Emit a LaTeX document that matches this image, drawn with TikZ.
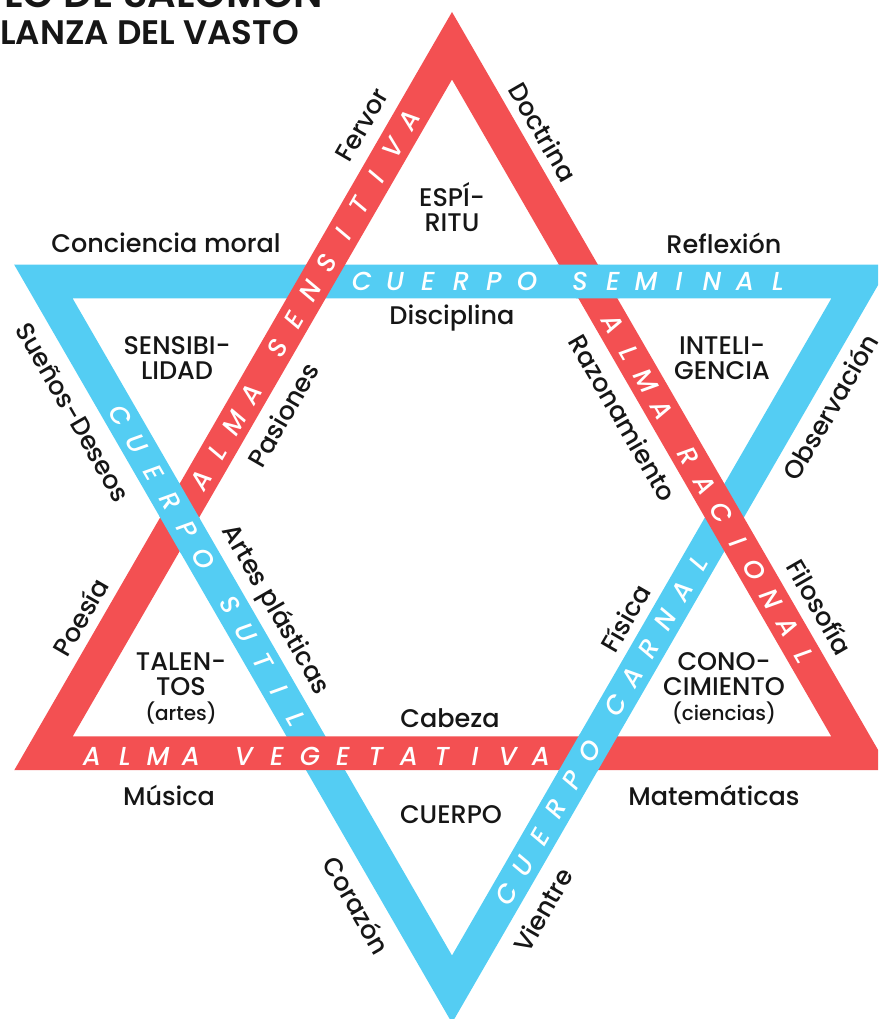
\documentclass[tikz,border=0pt]{standalone}
\usepackage{fontspec}
\setmainfont{Poppins}
\IfFontExistsTF{Poppins Medium}{\newfontfamily\labfont{Poppins Medium}}{\newfontfamily\labfont{Poppins}}
\IfFontExistsTF{Poppins SemiBold}{\newfontfamily\titfont{Poppins SemiBold}}{\newfontfamily\titfont{Poppins}[UprightFont=*-Bold]}
\IfFontExistsTF{Poppins Medium Italic}{\newfontfamily\bandfont{Poppins Medium Italic}}{%
  \IfFontExistsTF{Poppins Italic}{\newfontfamily\bandfont{Poppins Italic}}{\newfontfamily\bandfont{Poppins}[FakeSlant=0.2]}}
\usetikzlibrary{calc}
\definecolor{sred}{RGB}{243,80,82}
\definecolor{sblue}{RGB}{84,205,243}
\definecolor{ink}{RGB}{22,22,22}
\newlength\pitch \setlength\pitch{33pt}
\newlength\wgap \setlength\wgap{20pt}
\def\spacedtext#1{\spacedaux#1\relax}
\def\spacedaux#1{\ifx#1\relax\else\ifx#1/\hspace{\wgap}\else\makebox[\pitch]{#1}\fi\expandafter\spacedaux\fi}
\tikzset{
  lab/.style={font=\labfont\fontsize{25.5}{25}\selectfont, text=ink, inner sep=0pt, align=center},
  bandtxt/.style={font=\bandfont\fontsize{26}{26}\selectfont, text=white, inner sep=0pt},
  titletxt/.style={font=\titfont\fontsize{34}{36}\selectfont, text=ink, inner sep=0pt},
}
\newcommand\sublab[1]{{\fontsize{20}{22}\selectfont #1}}
\begin{document}
\begin{tikzpicture}[x=1pt,y=1pt]
\useasboundingbox (0,0) rectangle (878,1019);
\clip (0,0) rectangle (878,1019);
\begin{scope}[shift={(452,501.5)}]
  \coordinate (RA) at (90:505.5);  \coordinate (RL) at (210:505.5); \coordinate (RR) at (330:505.5);
  \coordinate (ra) at (90:438);    \coordinate (rl) at (210:438);   \coordinate (rr) at (330:438);
  \coordinate (BB) at (270:505.5); \coordinate (BR) at (30:505.5);  \coordinate (BL) at (150:505.5);
  \coordinate (bb) at (270:438);   \coordinate (br) at (30:438);    \coordinate (bl) at (150:438);
  % slightly enlarged red side outlines, for seamless blue-over crossings
  \coordinate (XA) at (90:509);  \coordinate (XL) at (210:509); \coordinate (XR) at (330:509);
  \coordinate (xa) at (90:434);  \coordinate (xl) at (210:434); \coordinate (xr) at (330:434);
\end{scope}
% blue band
\fill[sblue,even odd rule] (BB)--(BR)--(BL)--cycle (bb)--(br)--(bl)--cycle;
% red band (over)
\fill[sred,even odd rule] (RA)--(RL)--(RR)--cycle (ra)--(rl)--(rr)--cycle;
% blue over red at three crossings
\begin{scope}
  \clip (BL)--(BR)--(br)--(bl)--cycle;
  \fill[sblue] (XA)--(XR)--(xr)--(xa)--cycle;
\end{scope}
\begin{scope}
  \clip (BL)--(BB)--(bb)--(bl)--cycle;
  \fill[sblue] (XA)--(XL)--(xl)--(xa)--cycle;
\end{scope}
\begin{scope}
  \clip (BR)--(BB)--(bb)--(br)--cycle;
  \fill[sblue] (XL)--(XR)--(xr)--(xl)--cycle;
\end{scope}
% title
\node[titletxt, font=\titfont\fontsize{40}{42}\selectfont, anchor=base east] (t1) at (323,1011) {LO DE SALOMON};
\node[titletxt, anchor=base west] (t2) at (0,974) {LANZA DEL VASTO};
% band texts
\node[bandtxt] (b1) at (570,737.4) {\spacedtext{CUERPO/SEMINAL}};
\node[bandtxt, rotate=60] (b2) at (305.2,719) {\spacedtext{ALMA/SENSITIVA}};
\node[bandtxt, rotate=-60] (b3) at (708.5,529) {\spacedtext{ALMA/RACIONAL}};
\node[bandtxt] (b4) at (316.5,262.5) {\spacedtext{ALMA/VEGETATIVA}};
\node[bandtxt, rotate=-60] (b5) at (208.3,452) {\spacedtext{CUERPO/SUTIL}};
\node[bandtxt, rotate=60] (b6) at (602.5,290.5) {\spacedtext{CUERPO/CARNAL}};
% labels
\node[lab, rotate=60] (fervor) at (362,894) {Fervor};
\node[lab, rotate=-60] (doctrina) at (543,887) {Doctrina};
\node[lab] (espiritu) at (452,812) {ESPÍ-\\RITU};
\node[lab] (conciencia) at (166,776) {Conciencia moral};
\node[lab] (reflexion) at (724,776) {Reflexión};
\node[lab] (disciplina) at (452,701) {Disciplina};
\node[lab] (sensibilidad) at (177,661) {SENSIBI-\\LIDAD};
\node[lab] (inteligencia) at (722,661) {INTELI-\\GENCIA};
\node[lab, rotate=-60] (suenos) at (73,607) {Sueños-Deseos};
\node[lab, rotate=60] (pasiones) at (283,604) {Pasiones};
\node[lab, rotate=-60] (razonamiento) at (623,601) {Razonamiento};
\node[lab, rotate=60] (observacion) at (830,612) {Observación};
\node[lab, rotate=60] (poesia) at (80,402) {Poesía};
\node[lab, rotate=-60] (artes) at (275,409) {Artes plásticas};
\node[lab] (talentos) at (181,331) {TALEN-\\TOS\\\sublab{(artes)}};
\node[lab, rotate=60] (fisica) at (625,401) {Física};
\node[lab, rotate=-60] (filosofia) at (820,412) {Filosofía};
\node[lab] (conocimiento) at (724,331) {CONO-\\CIMIENTO\\\sublab{(ciencias)}};
\node[lab] (cabeza) at (450,301) {Cabeza};
\node[lab] (musica) at (169,224) {Música};
\node[lab] (matematicas) at (714,224) {Matemáticas};
\node[lab] (cuerpo) at (451,204) {CUERPO};
\node[lab, rotate=-60] (corazon) at (357,114) {Corazón};
\node[lab, rotate=60] (vientre) at (543,109) {Vientre};
\end{tikzpicture}
\end{document}
